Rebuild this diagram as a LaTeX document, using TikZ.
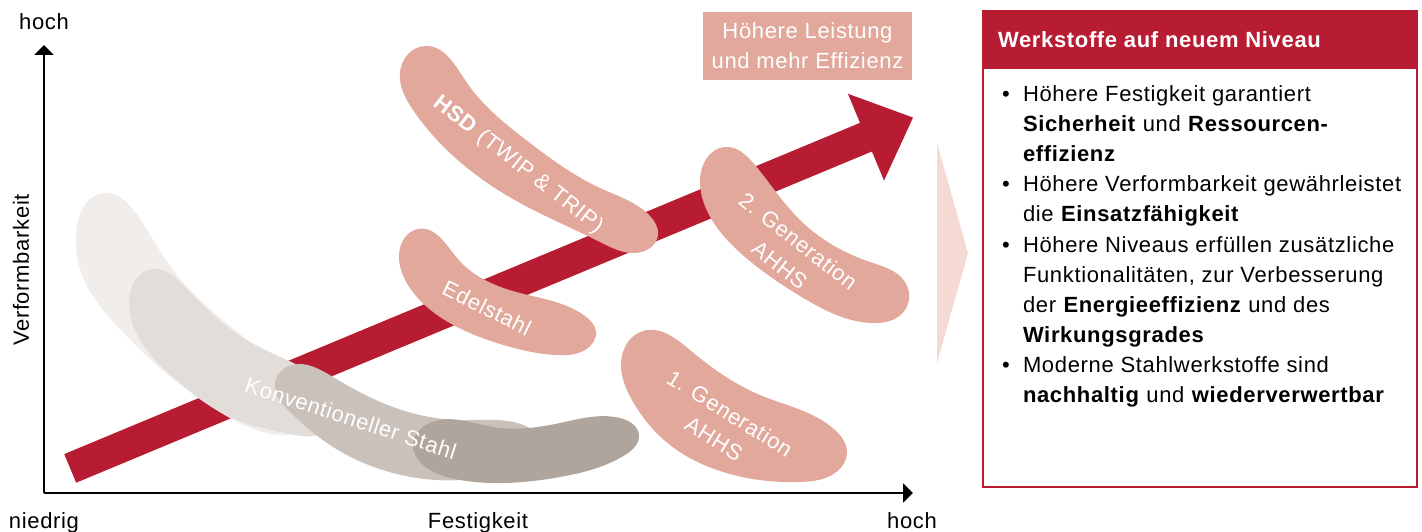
\documentclass[tikz,border=0pt]{standalone}
\usepackage{fontspec}
\setmainfont{Liberation Sans}[LetterSpace=3]
\usetikzlibrary{arrows.meta,hobby}
\definecolor{tkred}{HTML}{B81C32}
\definecolor{pinkc}{HTML}{E1A89B}
\definecolor{chevc}{HTML}{F5DAD3}
\definecolor{gA}{HTML}{F0EDEA}
\definecolor{gB}{HTML}{E2DDD9}
\definecolor{gC}{HTML}{C9C1BA}
\definecolor{gD}{HTML}{AFA59C}
\begin{document}
\begin{tikzpicture}[x=1pt,y=-1pt,
  lbl/.style={font=\fontsize{22}{30}\selectfont, inner sep=0pt, outer sep=0pt},
  blobtxt/.style={lbl, text=white, align=center},
  axisline/.style={line width=2pt, -{Triangle[length=10pt,width=19pt]}},
  blob/.style={use Hobby shortcut, closed=true},
  bodyline/.style={lbl, anchor=base west, text=black},
  bulletmark/.style={lbl, anchor=base, text=black}]
\useasboundingbox (0,0) rectangle (1422,532);

% big red arrow
\begin{scope}[shift={(70.2,468.4)}, rotate=22.6]
  \fill[tkred] (0,-15.5) -- (862,-15.5) -- (862,-47) -- (913,0) -- (862,47) -- (862,15.5) -- (0,15.5) -- cycle;
\end{scope}

% grey blobs
\fill[gA, blob] (76,235) .. (105,193) .. (135,212) .. (170,266) .. (230,326) .. (300,382) .. (318,418) .. (295,434) .. (230,418) .. (165,372) .. (110,318) .. (82,275);
\fill[gB, blob] (129,307) .. (153,269) .. (185,287) .. (250,342) .. (305,369) .. (335,400) .. (325,432) .. (290,434) .. (237,420) .. (180,383) .. (140,340);
\fill[gC, blob] (275,383) .. (292,365) .. (333,377) .. (393,407) .. (460,420) .. (530,428) .. (545,448) .. (510,473) .. (460,480) .. (393,473) .. (330,445) .. (290,412);
\fill[gD, blob] (413,445) .. (432,422) .. (493,427) .. (560,423) .. (620,418) .. (639,435) .. (625,455) .. (560,477) .. (505,483) .. (455,479) .. (423,465);

% pink blobs
\fill[pinkc, blob] (400,72) .. (425,46) .. (465,80) .. (530,143) .. (600,188) .. (650,216) .. (658,235) .. (635,253) .. (600,242) .. (520,203) .. (450,153) .. (413,110);
\fill[pinkc, blob] (399,255) .. (418,229) .. (457,258) .. (520,293) .. (585,316) .. (596,332) .. (585,350) .. (555,355) .. (497,343) .. (440,317) .. (408,285);
\fill[pinkc, blob] (700,182) .. (725,147) .. (755,165) .. (800,220) .. (870,262) .. (905,282) .. (905,310) .. (870,323) .. (800,296) .. (745,257) .. (712,220);
\fill[pinkc, blob] (621,364) .. (643,331) .. (690,350) .. (760,395) .. (835,430) .. (847,452) .. (830,476) .. (800,482) .. (730,474) .. (670,445) .. (632,400);

% blob labels
\node[blobtxt, rotate=-18] (konv) at (351,418) {Konventioneller Stahl};
\node[blobtxt, rotate=-38] (hsd) at (518,165) {\textbf{HSD} (TWIP \& TRIP)};
\node[blobtxt, rotate=-26.5] (edel) at (487,308) {Edelstahl};
\node[blobtxt, rotate=-38] (gen2) at (789,253) {2. Generation\\AHHS};
\node[blobtxt, rotate=-32] (gen1) at (722,426) {1. Generation\\AHHS};

% top box
\node[blobtxt, fill=pinkc, minimum width=209pt, minimum height=68pt] (perf) at (807.5,46) {Höhere Leistung\\und mehr Effizienz};

% axes
\coordinate (O) at (44,493);
\coordinate (Ytop) at (44,45);
\coordinate (Xend) at (913,493);
\draw[axisline] (O) -- (Ytop);
\draw[axisline] (O) -- (Xend);
\node[lbl, anchor=base] (yhigh) at (44,30) {hoch};
\node[lbl, rotate=90] (ylab) at (21,270) {Verformbarkeit};
\node[lbl, anchor=base] (xlow) at (44,528) {niedrig};
\node[lbl, anchor=base] (xlab) at (478,528) {Festigkeit};
\node[lbl, anchor=base] (xhigh) at (912,528) {hoch};

% chevron
\fill[chevc] (937,143) -- (968,253) -- (937,363) -- cycle;

% right panel
\fill[tkred] (983,11) rectangle (1417,69);
\draw[tkred, line width=2pt] (983,11) rectangle (1417,487);
\node[lbl, anchor=base west, text=white, font=\fontsize{22}{30}\selectfont\bfseries] (title) at (998,48) {Werkstoffe auf neuem Niveau};

\node[bulletmark] (b1) at (1006,102) {•};
\node[bodyline] (l1) at (1023,102) {Höhere Festigkeit garantiert};
\node[bodyline] (l2) at (1023,132) {\textbf{Sicherheit} und \textbf{Ressourcen-}};
\node[bodyline] (l3) at (1023,162) {\textbf{effizienz}};
\node[bulletmark] (b2) at (1006,192) {•};
\node[bodyline] (l4) at (1023,192) {Höhere Verformbarkeit gewährleistet};
\node[bodyline] (l5) at (1023,222) {die \textbf{Einsatzfähigkeit}};
\node[bulletmark] (b3) at (1006,252) {•};
\node[bodyline] (l6) at (1023,252) {Höhere Niveaus erfüllen zusätzliche};
\node[bodyline] (l7) at (1023,282) {Funktionalitäten, zur Verbesserung};
\node[bodyline] (l8) at (1023,312) {der \textbf{Energieeffizienz} und des};
\node[bodyline] (l9) at (1023,342) {\textbf{Wirkungsgrades}};
\node[bulletmark] (b4) at (1006,372) {•};
\node[bodyline] (l10) at (1023,372) {Moderne Stahlwerkstoffe sind};
\node[bodyline] (l11) at (1023,402) {\textbf{nachhaltig} und \textbf{wiederverwertbar}};
\end{tikzpicture}
\end{document}
